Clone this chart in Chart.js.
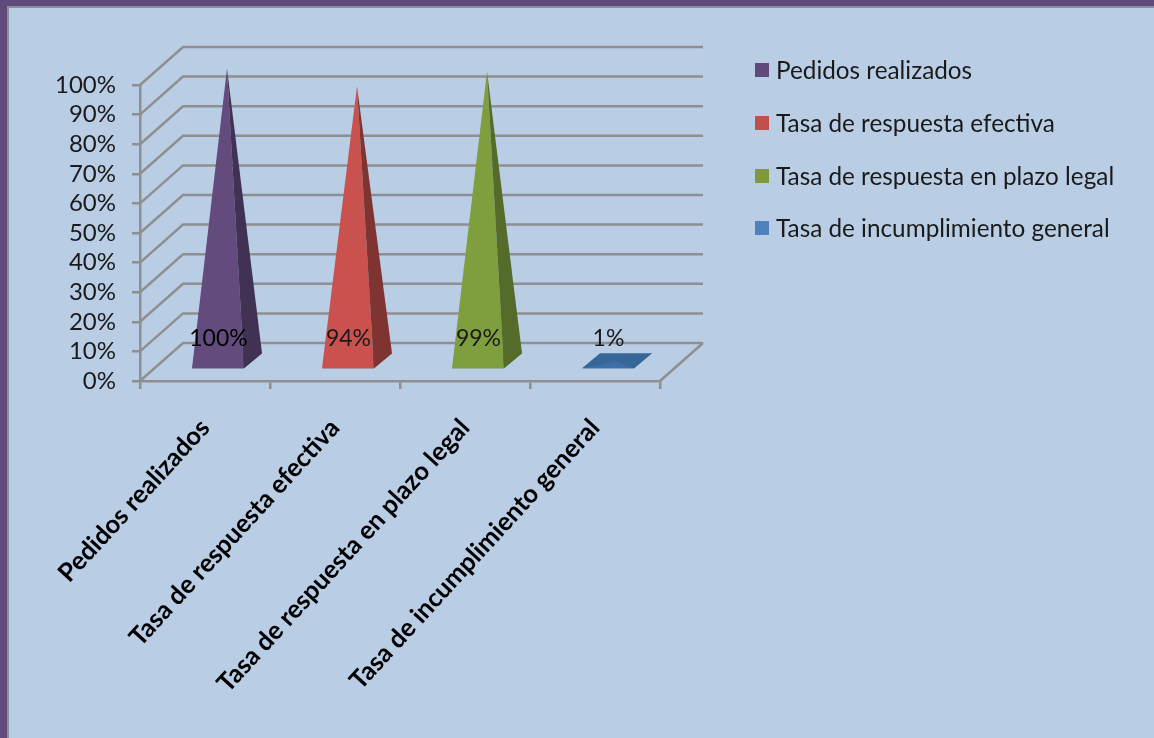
<!DOCTYPE html>
<html>
<head>
<meta charset="utf-8">
<title>Pedidos</title>
<script src="https://cdn.jsdelivr.net/npm/chart.js@4"></script>
<style>
    html, body { margin: 0; padding: 0; background: #b9cde5; overflow: hidden; }
    #chart { position: absolute; left: 0; top: 0; }
    #frame {
        position: absolute; left: 0; top: 0; width: 1154px; height: 738px; box-sizing: border-box;
        border-left: 7px solid #604a7b; border-top: 6px solid #604a7b;
        box-shadow: inset 2px 2px 0 #8a9099; pointer-events: none;
    }
</style>
</head>
<body>
<canvas id="chart" width="1154" height="738"></canvas>
<div id="frame"></div>
<script>
const categories = ['Pedidos realizados', 'Tasa de respuesta efectiva', 'Tasa de respuesta en plazo legal', 'Tasa de incumplimiento general'];
const values = [100, 94, 99, 1];
const frontColors = ['#634b7e', '#c9524f', '#7f9f3e', '#3d70a8'];
const sideColors = ['#413253', '#7f3431', '#546b29', '#376699'];
const legendColors = ['#604a7b', '#c0504d', '#7d9b3c', '#4f81bd'];

const FONT = 'Lato, "Noto Sans", sans-serif';
const GRID = '#8f8f8f';
const TEXT = '#1a1a1a';

// Depth of the fake 3D box and of the pyramid bases
const wallDx = 43, wallDy = 38;
const baseDx = 18, baseDy = 15;
const barShift = 13, barLift = 11.5;

// Walls and floor of the 3D box
const wallsPlugin = {
    id: 'walls',
    beforeDatasetsDraw(chart) {
        const { ctx, chartArea: a, scales: { y } } = chart;
        ctx.save();
        ctx.strokeStyle = GRID;
        ctx.lineWidth = 2.5;
        y.ticks.forEach(t => {
            const py = y.getPixelForValue(t.value);
            ctx.beginPath();
            ctx.moveTo(a.left, py);
            ctx.lineTo(a.left + wallDx, py - wallDy);
            ctx.lineTo(a.right + wallDx, py - wallDy);
            ctx.stroke();
        });
        ctx.beginPath();
        ctx.moveTo(a.right, a.bottom);
        ctx.lineTo(a.right + wallDx, a.bottom - wallDy);
        ctx.stroke();
        ctx.restore();
    }
};

function fillPoly(ctx, color, pts) {
    ctx.fillStyle = color;
    ctx.beginPath();
    pts.forEach((p, i) => i ? ctx.lineTo(p[0], p[1]) : ctx.moveTo(p[0], p[1]));
    ctx.closePath();
    ctx.fill();
}

// Turn each (transparent) bar into a pyramid, using the bar's own pixels
const pyramidPlugin = {
    id: 'pyramids',
    afterDatasetsDraw(chart) {
        const { ctx } = chart;
        chart.getDatasetMeta(0).data.forEach((bar, i) => {
            const x0 = bar.x + barShift - bar.width / 2;
            const x1 = bar.x + barShift + bar.width / 2;
            const by = bar.base - barLift;
            const height = bar.base - bar.y;
            const apex = [(x0 + x1 + baseDx) / 2, by - baseDy / 3 - height];
            fillPoly(ctx, sideColors[i], [[x0, by], [x1, by], [x1 + baseDx, by - baseDy], [x0 + baseDx, by - baseDy]]);
            fillPoly(ctx, frontColors[i], [[x0, by], [x1, by], apex]);
            fillPoly(ctx, sideColors[i], [[x1, by], [x1 + baseDx, by - baseDy], apex]);

            ctx.save();
            ctx.fillStyle = i === 0 ? '#000' : TEXT;
            ctx.font = '23px ' + FONT;
            ctx.textAlign = 'center';
            ctx.textBaseline = 'middle';
            ctx.fillText(values[i] + '%', bar.x + 13.5, bar.base - 41);
            ctx.restore();
        });
    }
};

// Legend to the right of the box
const sideLegendPlugin = {
    id: 'sideLegend',
    afterDraw(chart) {
        const { ctx } = chart;
        const rows = [70, 123, 176, 228];
        ctx.save();
        ctx.font = '24.3px ' + FONT;
        ctx.textBaseline = 'middle';
        categories.forEach((label, i) => {
            ctx.fillStyle = legendColors[i];
            ctx.fillRect(755, rows[i] - 7, 14, 14);
            ctx.fillStyle = TEXT;
            ctx.fillText(label, 776, rows[i] + 1);
        });
        ctx.restore();
    }
};

new Chart(document.getElementById('chart'), {
    type: 'bar',
    data: {
        labels: categories,
        datasets: [{
            data: values,
            backgroundColor: 'transparent',
            borderWidth: 0,
            barPercentage: 0.4,
            categoryPercentage: 1
        }]
    },
    options: {
        responsive: false,
        animation: false,
        layout: { padding: { left: 0, top: 85, right: 494, bottom: 0 } },
        plugins: { legend: { display: false }, tooltip: { enabled: false } },
        scales: {
            x: {
                afterFit(scale) { scale.height = 357; },
                grid: { drawOnChartArea: false, color: GRID, lineWidth: 2.5, tickLength: 8 },
                border: { color: GRID, width: 2.5 },
                ticks: {
                    color: '#000',
                    font: { family: FONT, size: 25.5, weight: 'bold' },
                    maxRotation: 47.5,
                    minRotation: 47.5,
                    autoSkip: false,
                    padding: 24
                }
            },
            y: {
                min: 0,
                max: 100,
                afterFit(scale) { scale.width = 140; },
                grid: { drawOnChartArea: false, color: GRID, lineWidth: 2.5, tickLength: 8 },
                border: { color: GRID, width: 2.5 },
                ticks: {
                    stepSize: 10,
                    autoSkip: false,
                    color: TEXT,
                    padding: 16,
                    font: { family: FONT, size: 24 },
                    callback: v => v + '%'
                }
            }
        }
    },
    plugins: [wallsPlugin, pyramidPlugin, sideLegendPlugin]
});
</script>
</body>
</html>
